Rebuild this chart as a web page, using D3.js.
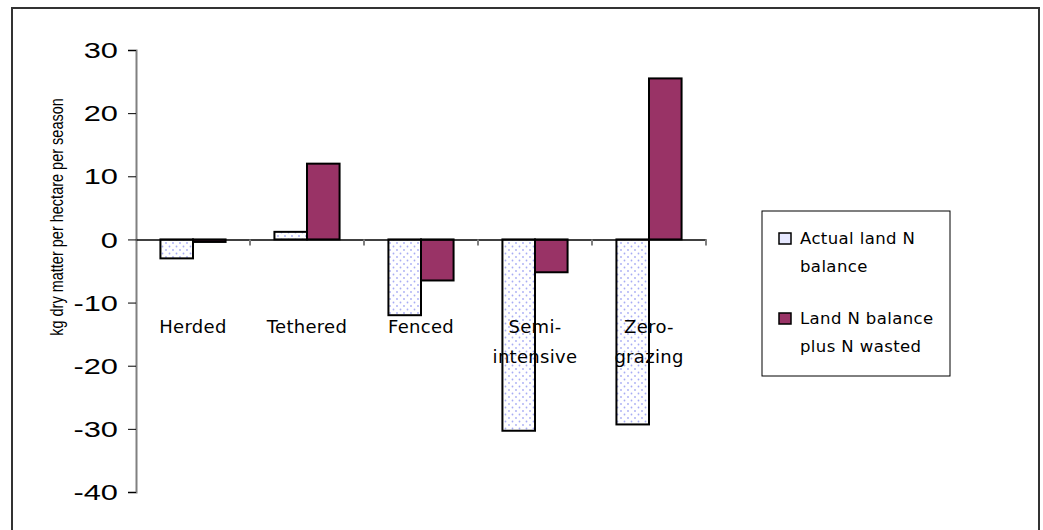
<!DOCTYPE html>
<html lang="en">
<head>
  <meta charset="UTF-8" />
  <title>Land N balance</title>
  <style>
    body { margin: 0; background: #fff; }
    svg { display: block; }
    .ytick text { font: 22px "Liberation Sans", Arial, sans-serif; fill: #000; }
    .cat-label, .legend text {
      font-family: "Century Gothic", "URW Gothic", "DejaVu Sans", sans-serif;
      fill: #000;
    }
    .cat-label { font-size: 18px; letter-spacing: 0.3px; }
    .legend text { font-size: 16.5px; letter-spacing: 0.4px; }
  </style>
  <script src="https://d3js.org/d3.v7.min.js"></script>
</head>
<body>
  <svg width="1043" height="530"></svg>
  <script>
    // data
    const categories = ['Herded', 'Tethered', 'Fenced', 'Semi-intensive', 'Zero-grazing'];
    const catLines = [['Herded'], ['Tethered'], ['Fenced'], ['Semi-', 'intensive'], ['Zero-', 'grazing']];
    const seriesNames = ['Actual land N balance', 'Land N balance plus N wasted'];
    const actual = [-3, 1.2, -12, -30.3, -29.3];
    const plusWasted = [-0.4, 12, -6.5, -5.2, 25.5];
    const yTicks = [30, 20, 10, 0, -10, -20, -30, -40];

    const svg = d3.select('svg');

    // outer frame (bottom edge is cut off)
    svg.append('path')
      .attr('d', 'M12,540 V8 H1039 V540')
      .attr('fill', 'none')
      .attr('stroke', '#333')
      .attr('stroke-width', 2);

    const defs = svg.append('defs');
    const pat = defs.append('pattern')
      .attr('id', 'dots')
      .attr('patternUnits', 'userSpaceOnUse')
      .attr('width', 7).attr('height', 7);
    pat.append('rect').attr('width', 7).attr('height', 7).attr('fill', '#fff');
    pat.append('circle').attr('cx', 1.5).attr('cy', 1.5).attr('r', 0.9).attr('fill', '#a8acf4');
    pat.append('circle').attr('cx', 5).attr('cy', 5).attr('r', 0.9).attr('fill', '#a8acf4');

    const x0 = d3.scaleBand().domain(categories).range([136, 706]).padding(0);
    const y = d3.scaleLinear().domain([-40, 30]).range([492, 50]);
    const barW = x0.bandwidth() / 3.5;
    const x1 = d3.scaleBand().domain([0, 1]).range([0, barW * 2]);
    const fills = ['url(#dots)', '#993366'];

    // y axis
    const yAxis = svg.append('g')
      .attr('class', 'ytick')
      .attr('transform', 'translate(136,0)')
      .call(d3.axisLeft(y).tickValues(yTicks).tickSize(8).tickFormat(d => String(d)));
    yAxis.select('.domain').attr('stroke', '#808080').attr('stroke-width', 2);
    yAxis.selectAll('.tick line').attr('stroke', '#000');
    // the picture is stretched sideways, so widen the glyphs
    yAxis.selectAll('text')
      .attr('x', 0)
      .attr('dy', '0.35em')
      .attr('transform', 'translate(-18,0) scale(1.4,1)');

    svg.append('text')
      .attr('transform', 'translate(63,217) scale(1.25,1) rotate(-90)')
      .attr('text-anchor', 'middle')
      .style('font', '14.5px "Liberation Sans", Arial, sans-serif')
      .text('kg dry matter per hectare per season');

    // bars
    const series = [actual, plusWasted];
    series.forEach((vals, s) => {
      svg.append('g').selectAll('rect')
        .data(vals)
        .join('rect')
        .attr('x', (d, i) => x0(categories[i]) + x0.bandwidth() / 2 - barW + x1(s))
        .attr('width', x1.bandwidth())
        .attr('y', d => y(Math.max(0, d)))
        .attr('height', d => Math.abs(y(d) - y(0)))
        .attr('fill', fills[s])
        .attr('stroke', '#000')
        .attr('stroke-width', 2);
    });

    // x axis at zero
    const xAxis = svg.append('g')
      .attr('transform', `translate(0,${y(0)})`)
      .call(d3.axisBottom(x0).tickSize(0).tickFormat(''));
    xAxis.select('.domain').attr('stroke', '#000').attr('stroke-width', 1.5);
    xAxis.selectAll('.tick').remove();
    xAxis.selectAll('.sep')
      .data(categories)
      .join('line')
      .attr('x1', d => x0(d) + x0.bandwidth())
      .attr('x2', d => x0(d) + x0.bandwidth())
      .attr('y1', 0).attr('y2', 6)
      .attr('stroke', '#808080')
      .attr('stroke-width', 2);

    // category labels
    const labels = svg.append('g').selectAll('text')
      .data(categories)
      .join('text')
      .attr('class', 'cat-label')
      .attr('text-anchor', 'middle')
      .attr('x', d => x0(d) + x0.bandwidth() / 2)
      .attr('y', 333);
    labels.each(function (d, i) {
      d3.select(this).selectAll('tspan')
        .data(catLines[i])
        .join('tspan')
        .attr('x', x0(d) + x0.bandwidth() / 2)
        .attr('dy', (t, j) => j === 0 ? 0 : 30)
        .text(t => t);
    });

    // legend
    const legend = svg.append('g').attr('class', 'legend');
    legend.append('rect')
      .attr('x', 762).attr('y', 211).attr('width', 188).attr('height', 165)
      .attr('fill', '#fff').attr('stroke', '#000').attr('stroke-width', 1);
    const legendLines = [['Actual land N', 'balance'], ['Land N balance', 'plus N wasted']];
    const legendTop = [238, 318];
    legendLines.forEach((lines, s) => {
      legend.append('rect')
        .attr('x', 779).attr('y', legendTop[s] - 5).attr('width', 12).attr('height', 11)
        .attr('fill', s === 0 ? '#e6e8ff' : fills[s]).attr('stroke', '#000').attr('stroke-width', 1.5);
      legend.append('text')
        .attr('x', 800).attr('y', legendTop[s] + 6)
        .selectAll('tspan')
        .data(lines)
        .join('tspan')
        .attr('x', 800)
        .attr('dy', (t, j) => j === 0 ? 0 : 28)
        .text(t => t);
    });
  </script>
</body>
</html>
